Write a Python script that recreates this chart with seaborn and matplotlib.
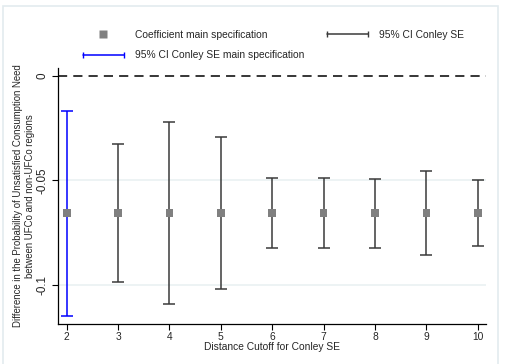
import numpy as np
import pandas as pd
import matplotlib
matplotlib.use("Agg")
import matplotlib.pyplot as plt
import seaborn as sns
from matplotlib.lines import Line2D
from matplotlib.patches import Rectangle
from matplotlib.legend_handler import HandlerLine2D

# data
cutoffs = [2, 3, 4, 5, 6, 7, 8, 9, 10]
coef = [-0.0656] * 9
ci_upper = [-0.0166, -0.0324, -0.0220, -0.0292, -0.0487, -0.0487, -0.0491, -0.0453, -0.0498]
ci_lower = [-0.1147, -0.0987, -0.1090, -0.1019, -0.0824, -0.0824, -0.0821, -0.0858, -0.0813]
yticks = [0, -0.05, -0.1]
ytick_labels = ["0", "-0.05", "-0.1"]

df = pd.DataFrame({"cutoff": cutoffs, "coef": coef, "lo": ci_lower, "hi": ci_upper})

sns.set_theme(style="white")
plt.rcParams["font.family"] = ["Liberation Sans", "DejaVu Sans"]
fs = 7.35

fig = plt.figure(figsize=(5.06, 3.64), dpi=100)
fig.patch.set_facecolor("white")
fig.patches.append(Rectangle((3 / 506, -0.01), 495 / 506, 1 - 6 / 364 + 0.01,
                             transform=fig.transFigure, fill=False,
                             edgecolor="#e3ebef", linewidth=1.2))
ax = fig.add_axes([58 / 506, 1 - 324 / 364, 428 / 506, 256 / 364])

# light horizontal grid
for yv in [-0.05, -0.1]:
    ax.axhline(yv, color="#eaf1f2", linewidth=1.2, zorder=0)
ax.axhline(0, color="black", linestyle=(0, (6, 4)), linewidth=1.1, zorder=1)

ci_color = "#3a3a3a"
main = df[df["cutoff"] == 2]
rest = df[df["cutoff"] != 2]
ax.errorbar(rest["cutoff"], rest["coef"],
            yerr=[rest["coef"] - rest["lo"], rest["hi"] - rest["coef"]],
            fmt="none", ecolor=ci_color, elinewidth=1.1, capsize=4.5, capthick=1.1, zorder=2)
ax.errorbar(main["cutoff"], main["coef"],
            yerr=[main["coef"] - main["lo"], main["hi"] - main["coef"]],
            fmt="none", ecolor="#0000ff", elinewidth=1.1, capsize=4.5, capthick=1.1, zorder=2)
sns.scatterplot(data=df, x="cutoff", y="coef", marker="s", s=30, color="#808080",
                edgecolor="none", ax=ax, zorder=3, legend=False)

ax.set_xlim(1.83, 10.16)
ax.set_ylim(-0.1187, 0.0038)
ax.set_xticks(cutoffs)
ax.set_xticklabels([str(c) for c in cutoffs], fontsize=fs)
ax.set_yticks(yticks)
ax.set_yticklabels(ytick_labels, fontsize=fs + 1, rotation=90, va="center")
ax.tick_params(axis="both", direction="out", length=4, width=0.8, color="black",
               pad=3, left=True, bottom=True)
ax.tick_params(axis="x", pad=2)
for side in ["top", "right"]:
    ax.spines[side].set_visible(False)
for side in ["left", "bottom"]:
    ax.spines[side].set_color("black")
    ax.spines[side].set_linewidth(0.9)

ax.set_xlabel("Distance Cutoff for Conley SE", fontsize=fs, labelpad=0)
ax.set_ylabel("Difference in the Probability of Unsatisfied Consumption Need\n"
              "between UFCo and non-UFCo regions", fontsize=6.95, labelpad=1,
              linespacing=1.2)

h_coef = Line2D([], [], linestyle="none", marker="s", markersize=5.5,
                color="#808080", markeredgecolor="none")
h_ci = Line2D([], [], color=ci_color, linewidth=1.1, marker="|", markersize=5)
h_main = Line2D([], [], color="#0000ff", linewidth=1.1, marker="|", markersize=5)
fig.legend([h_coef, h_main, h_ci],
           ["Coefficient main specification",
            "95% CI Conley SE main specification",
            "95% CI Conley SE"],
           ncol=2, loc="upper left", bbox_to_anchor=(80 / 506, 1 - 30 / 364),
           frameon=False, fontsize=fs, borderpad=0, borderaxespad=0,
           handlelength=4.6, handletextpad=0.75, columnspacing=2.0,
           labelspacing=1.0, numpoints=2,
           handler_map={h_coef: HandlerLine2D(numpoints=1)})

fig.savefig("out.png", dpi=100)
